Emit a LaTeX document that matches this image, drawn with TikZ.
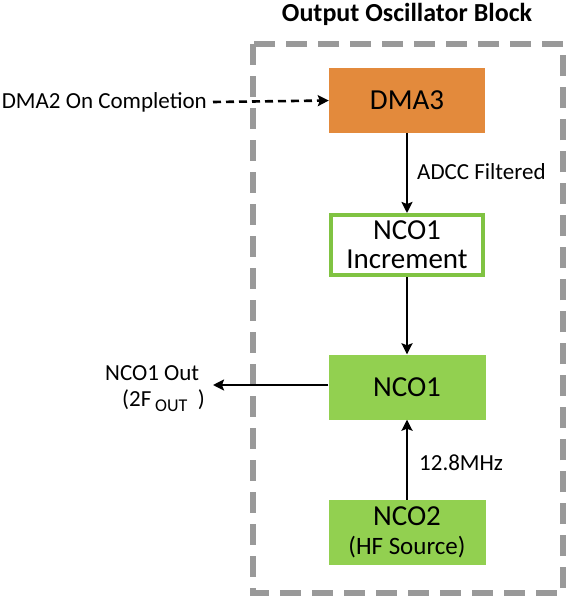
\documentclass[tikz,border=0pt]{standalone}
\usepackage{fontspec}
\setmainfont{Carlito}
\usetikzlibrary{arrows.meta}
\definecolor{orng}{HTML}{E38A3C}
\definecolor{grn}{HTML}{92D050}
\definecolor{grnline}{HTML}{80C342}
\definecolor{frame}{HTML}{999999}
\tikzset{
  lbl/.style={font=\fontsize{23}{27}\selectfont, inner sep=0pt},
  boxtext/.style={font=\fontsize{29}{29}\selectfont, align=center, inner sep=0pt},
  conn/.style={line width=2.6pt, -{Stealth[length=11pt,width=11pt,inset=2pt]}},
  orangebox/.style={boxtext, fill=orng, minimum width=156pt, minimum height=65pt},
  greenbox/.style={boxtext, fill=grn, minimum width=157pt, minimum height=65pt},
  outlinebox/.style={boxtext, draw=grnline, line width=4pt, fill=white, minimum width=152pt, minimum height=60pt},
  blockframe/.style={draw=frame, line width=6pt, dash pattern=on 21pt off 11pt}
}
\begin{document}
\begin{tikzpicture}[x=1pt,y=-1pt]
\path[fill=white] (0,0) rectangle (572,600);
\useasboundingbox (0,0) rectangle (572,600);
% frame
\draw[blockframe] (253,44) rectangle (563,593);
\node[font=\bfseries\fontsize{26}{30}\selectfont, inner sep=0pt] (title) at (407,14) {Output Oscillator Block};
% boxes
\node[orangebox] (dma3) at (407,100.5) {DMA3};
\node[outlinebox] (inc) at (407,245) {NCO1\\Increment};
\node[greenbox] (nco1) at (407,387) {NCO1};
\node[greenbox] (nco2) at (407,532.5) {NCO2\\{\fontsize{25}{26}\selectfont (HF Source)}};
% labels
\node[lbl, anchor=east] (dma2) at (207,102) {DMA2 On Completion};
\node[lbl, anchor=west] (adcc) at (417,172) {ADCC Filtered};
\node[lbl, anchor=west] (mhz) at (419,463) {12.8MHz};
\node[lbl, anchor=west] (out1) at (105,373) {NCO1 Out};
\node[lbl, anchor=west] (out2) at (122,401) {(2F\,\raisebox{-0.45ex}{\fontsize{18}{18}\selectfont OUT}\ \ )};
\coordinate (outend) at (213,385);
\coordinate (dstart) at (213,102);
% connectors
\draw[conn, dash pattern=on 8pt off 5pt] (dstart) -- (dma3.west);
\draw[conn] (dma3.south) -- (inc.north);
\draw[conn] (inc.south) -- (nco1.north);
\draw[conn] (nco2.north) -- (nco1.south);
\draw[conn] (nco1.west |- outend) -- (outend);
\end{tikzpicture}
\end{document}
